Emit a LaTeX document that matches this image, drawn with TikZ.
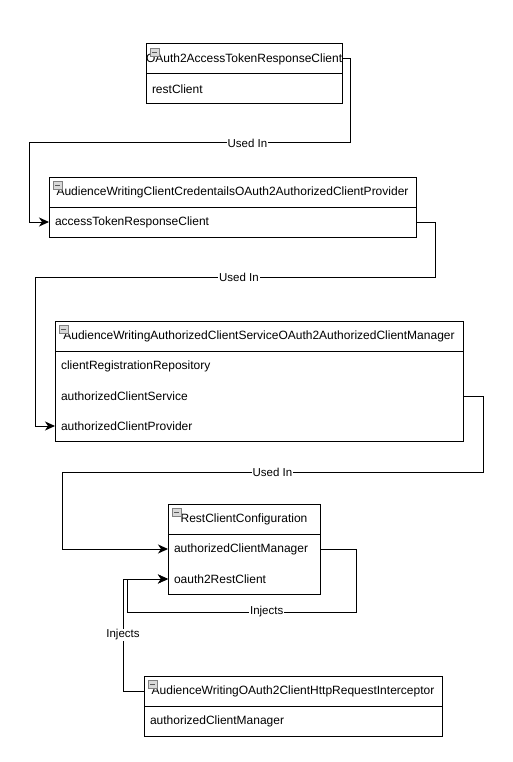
\documentclass[tikz,border=0pt]{standalone}
\usepackage{fontspec}
\setmainfont{Liberation Sans}
\usetikzlibrary{arrows.meta}
\begin{document}
\begin{tikzpicture}[x=1pt, y=-1pt, line width=1pt, outer sep=0pt,
  hdr/.style={draw, minimum width=#1, minimum height=30pt, inner sep=0pt, anchor=north west, font=\fontsize{12}{14}\selectfont},
  row/.style={text width=#1, align=left, inner xsep=6pt, inner ysep=0pt, minimum height=30pt, anchor=north west, font=\fontsize{12}{14}\selectfont},
  conn/.style={-{Stealth[length=10pt, width=9pt, inset=3pt]}},
  lbl/.style={fill=white, inner sep=1pt, font=\fontsize{11.5}{13}\selectfont},
  icon/.style={draw=gray, fill=gray!30, line width=0.6pt}]
\useasboundingbox (0,0) rectangle (513,762);

\node [hdr=196] (h1) at (146,44) {OAuth2AccessTokenResponseClient};
\node [row=184] (r1a) at (h1.south west) {restClient};
\draw (h1.south west) rectangle (r1a.south east);

\node [hdr=367] (h2) at (49,177) {AudienceWritingClientCredentailsOAuth2AuthorizedClientProvider};
\node [row=355] (r2a) at (h2.south west) {accessTokenResponseClient};
\draw (h2.south west) rectangle (r2a.south east);

\node [hdr=408] (h3) at (55,321) {AudienceWritingAuthorizedClientServiceOAuth2AuthorizedClientManager};
\node [row=396] (r3a) at (h3.south west) {clientRegistrationRepository};
\node [row=396] (r3b) at (r3a.south west) {authorizedClientService};
\node [row=396] (r3c) at (r3b.south west) {authorizedClientProvider};
\draw (h3.south west) rectangle (r3c.south east);

\node [hdr=152] (h4) at (168,504) {RestClientConfiguration};
\node [row=140] (r4a) at (h4.south west) {authorizedClientManager};
\node [row=140] (r4b) at (r4a.south west) {oauth2RestClient};
\draw (h4.south west) rectangle (r4b.south east);

\node [hdr=298] (h5) at (144,676) {AudienceWritingOAuth2ClientHttpRequestInterceptor};
\node [row=286] (r5a) at (h5.south west) {authorizedClientManager};
\draw (h5.south west) rectangle (r5a.south east);

\foreach \h in {h1,h2,h3,h4,h5} {
  \draw [icon] ([shift={(4,4)}]\h.north west) rectangle ++(9,8);
  \draw [line width=0.8pt, gray!70!black] ([shift={(6,8)}]\h.north west) -- ++(5,0);
}

\draw [conn] (h1.east) -- ++(8,0) -- ++(0,84) -- node[lbl, pos=0.32]{Used In} ++(-321,0) |- (r2a.west);
\draw [conn] (r2a.east) -- ++(19,0) -- ++(0,55) -- node[lbl, pos=0.49]{Used In} ++(-400,0) |- (r3c.west);
\draw [conn] (r3b.east) -- ++(20,0) -- ++(0,76) -- node[lbl, pos=0.5]{Used In} ++(-421,0) |- (r4a.west);
\draw [conn] (r4a.east) -- ++(36,0) -- ++(0,63) -- node[lbl, pos=0.39]{Injects} ++(-229,0) |- (r4b.west);
\draw [conn] (h5.west) -- ++(-21,0) |- node[lbl, pos=0.25]{Injects} (r4b.west);
\end{tikzpicture}
\end{document}
